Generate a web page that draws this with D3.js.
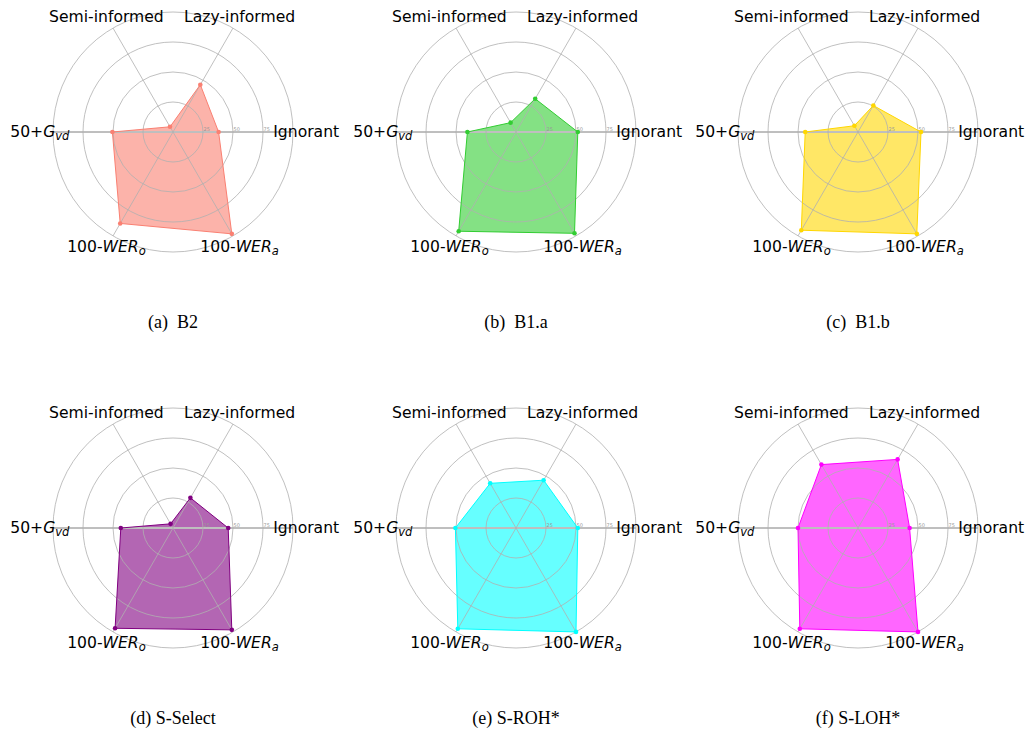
<!DOCTYPE html>
<html>
<head>
<meta charset="utf-8">
<script src="https://cdn.jsdelivr.net/npm/d3@7"></script>
<style>
  body { margin: 0; background: #fff; }
  svg { display: block; }
  .axis-label { font-family: "DejaVu Sans", sans-serif; font-size: 15.6px; fill: #000; }
  .tick-label { font-family: "DejaVu Sans", sans-serif; font-size: 5px; fill: #999; }
  .caption { font-family: "Liberation Serif", "Times New Roman", serif; font-size: 18px; fill: #000; }
</style>
</head>
<body>
<svg id="chart" width="1028" height="732"></svg>
<script>
// axis labels, counter-clockwise from the right
const axes = [
  { main: "Ignorant" },
  { main: "Lazy-informed" },
  { main: "Semi-informed" },
  { pre: "50+", it: "G", sub: "vd" },
  { pre: "100-", it: "WER", sub: "o" },
  { pre: "100-", it: "WER", sub: "a" }
]
const ticks = [25, 50, 75, 100]

const captions = ["(a)\u2002B2", "(b)\u2002B1.a", "(c)\u2002B1.b", "(d) S-Select", "(e) S-ROH*", "(f) S-LOH*"]
const colors = ["salmon", "limegreen", "gold", "purple", "cyan", "magenta"]

// values per chart: Ignorant, Lazy, Semi, 50+Gvd, 100-WERo, 100-WERa
const b2      = [38, 45.5, 5, 50.5, 88, 98]
const b1a     = [51.5, 32, 9, 40.5, 95.5, 97.5]
const b1b     = [52.5, 25.5, 6, 44, 94.5, 98]
const sSelect = [46, 29, 4, 43.5, 96.5, 98]
const sRoh    = [51.5, 46, 43, 50.5, 97, 100]
const sLoh    = [43, 66, 61, 50, 97, 100]
const series = [b2, b1a, b1b, sSelect, sRoh, sLoh]

const svg = d3.select("#chart")
const colX = [173, 516, 858]
const rowY = [132, 528]
const captionY = [322, 718]

const r = d3.scaleLinear().domain([0, 100]).range([0, 120])
const angle = (i) => Math.PI / 2 - i * Math.PI / 3   // d3 radial angle (clockwise from 12)

const radial = d3.lineRadial()
  .angle((d, i) => angle(i))
  .radius(d => r(d))
  .curve(d3.curveLinearClosed)

const pt = (i, v) => [Math.sin(angle(i)) * r(v), -Math.cos(angle(i)) * r(v)]

series.forEach((values, k) => {
  const cx = colX[k % 3]
  const cy = rowY[Math.floor(k / 3)]
  const g = svg.append("g").attr("transform", `translate(${cx},${cy})`)
  const color = colors[k]

  // filled area
  g.append("path")
    .attr("d", radial(values))
    .attr("fill", color)
    .attr("fill-opacity", 0.6)
    .attr("stroke", "none")

  // grid
  g.append("line")
    .attr("x1", -r(100)).attr("x2", r(100))
    .attr("stroke", "#c8c8c8").attr("stroke-width", 1.8)
  g.selectAll("circle.ring")
    .data(ticks)
    .enter().append("circle")
    .attr("class", "ring")
    .attr("r", d => r(d))
    .attr("fill", "none")
    .attr("stroke", "#b0b0b0")
    .attr("stroke-width", 0.8)
  g.selectAll("line.spoke")
    .data(axes)
    .enter().append("line")
    .attr("class", "spoke")
    .attr("x2", (d, i) => pt(i, 100)[0])
    .attr("y2", (d, i) => pt(i, 100)[1])
    .attr("stroke", "#b0b0b0")
    .attr("stroke-width", 0.8)
  // the 100 label sits under "Ignorant" in the reference, so only 25-75 show
  g.selectAll("text.tick-label")
    .data(ticks.slice(0, 3))
    .enter().append("text")
    .attr("class", "tick-label")
    .attr("x", d => r(d) + 0.5)
    .attr("y", -1.5)
    .text(d => d)

  // outline + markers
  g.append("path")
    .attr("d", radial(values))
    .attr("fill", "none")
    .attr("stroke", color)
    .attr("stroke-width", 1)
  g.selectAll("circle.dot")
    .data(values)
    .enter().append("circle")
    .attr("class", "dot")
    .attr("cx", (d, i) => pt(i, d)[0])
    .attr("cy", (d, i) => pt(i, d)[1])
    .attr("r", 2.3)
    .attr("fill", color)

  // axis labels
  const labels = g.selectAll("text.axis-label")
    .data(axes)
    .enter().append("text")
    .attr("class", "axis-label")
    .attr("x", (d, i) => pt(i, 111)[0])
    .attr("y", (d, i) => pt(i, 111)[1])
    .attr("text-anchor", "middle")
    .attr("dominant-baseline", "central")
  labels.each(function (d) {
    const t = d3.select(this)
    if (d.main) { t.text(d.main); return }
    t.append("tspan").text(d.pre)
    t.append("tspan").attr("font-style", "italic").text(d.it)
    t.append("tspan").attr("font-style", "italic").attr("font-size", "11.5px")
      .attr("dy", 4).text(d.sub)
  })

  svg.append("text")
    .attr("class", "caption")
    .attr("x", cx)
    .attr("y", captionY[Math.floor(k / 3)])
    .attr("text-anchor", "middle")
    .attr("dominant-baseline", "central")
    .text(captions[k])
})
</script>
</body>
</html>
